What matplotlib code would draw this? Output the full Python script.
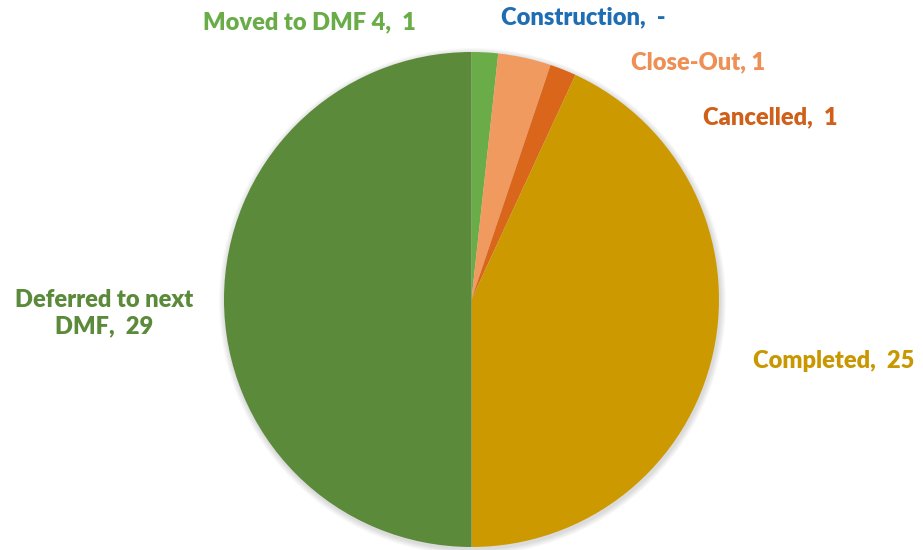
import matplotlib.pyplot as plt

categories = ['Moved to DMF 4', 'Construction', 'Close-Out', 'Cancelled', 'Completed', 'Deferred to next DMF']
values = [1, 0, 2, 1, 25, 29]
label_texts = ['Moved to DMF 4,  1', 'Construction,  -', 'Close-Out, 1', 'Cancelled,  1',
               'Completed,  25', 'Deferred to next\nDMF,  29']
colors = ['#6AAD48', '#1F6EB4', '#F19A60', '#D9661A', '#CC9A00', '#5B8A3B']
text_colors = ['#6AAD48', '#1F6EB4', '#EE8F55', '#D06019', '#C99700', '#5B8A3B']
# label centres in pixel coords (x, y from top)
label_pos = [(309, 22), (583, 17), (698, 62), (770, 117), (834, 361), (104, 313)]

W, H = 923, 550
fig = plt.figure(figsize=(W / 100, H / 100), dpi=100)
ax = fig.add_axes([0, 0, 1, 1])

cx, cy, r = 471.5, H - 299.5, 247.5
# soft shadow
for i in range(6):
    ax.add_patch(plt.Circle((cx + 1, cy - 2), r + 1 + i, color='#000000', alpha=0.025, lw=0))

ax.pie(values, colors=colors, startangle=90, counterclock=False, center=(cx, cy), radius=r,
       wedgeprops=dict(linewidth=0), frame=True)
ax.set_xlim(0, W)
ax.set_ylim(0, H)
ax.set_aspect('equal')
ax.axis('off')

for txt, col, (x, y) in zip(label_texts, text_colors, label_pos):
    ax.text(x, H - y, txt, color=col, fontsize=17, fontweight='heavy', family=['Lato', 'DejaVu Sans'],
            ha='center', va='center', linespacing=1.25)

fig.savefig('out.png', dpi=100)
